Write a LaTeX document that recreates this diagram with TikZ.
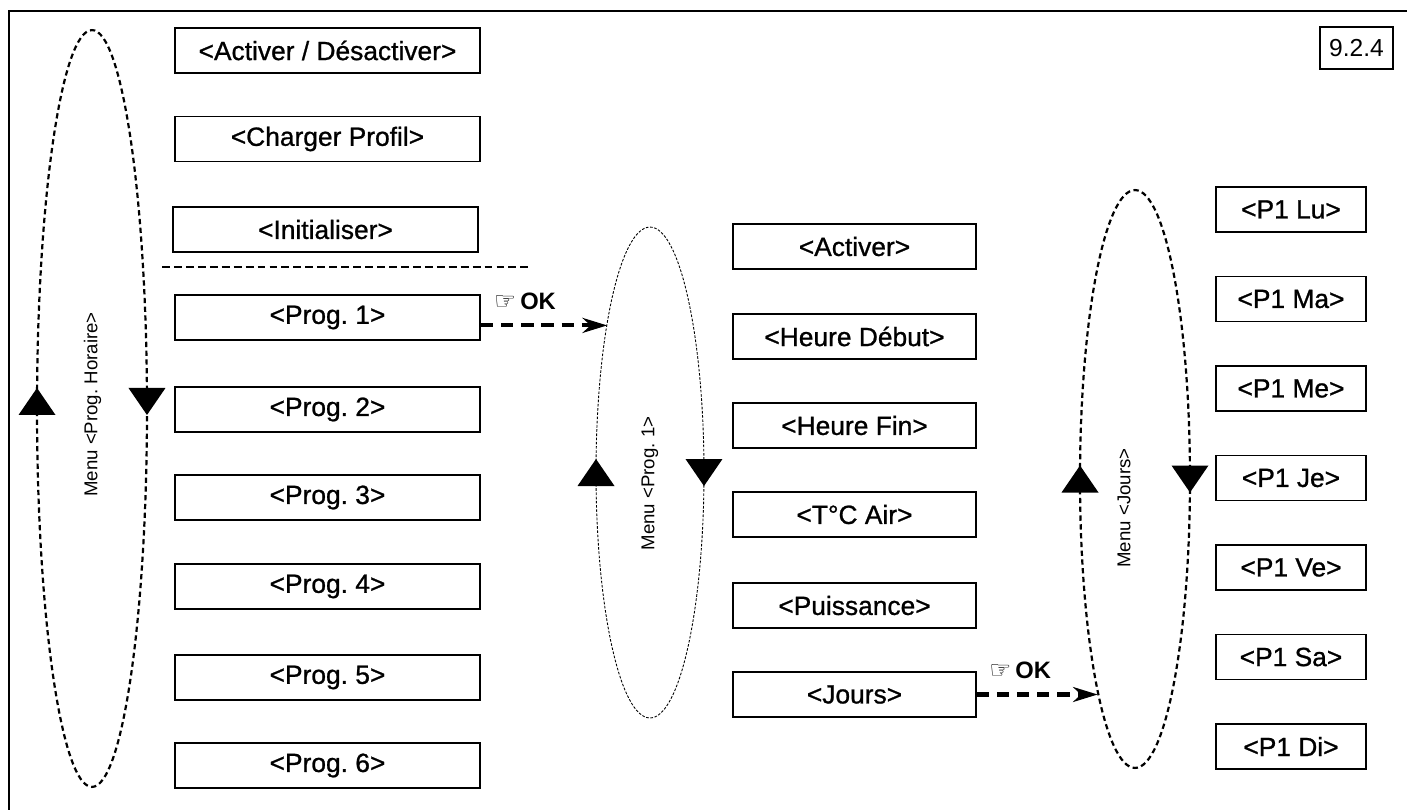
\documentclass[tikz,border=0pt]{standalone}
\usepackage{fontspec}
\setmainfont{Liberation Sans}
\newfontfamily\boxfont[FakeBold=0.9]{Liberation Sans}
\newfontfamily\symbfont{DejaVu Sans}
\usepackage{tikz}
\usetikzlibrary{shapes.geometric,arrows.meta,positioning}
\frenchspacing
\newcommand{\uptri}[1]{\fill #1 ++(-18.5,13.5) -- ++(37,0) -- ++(-18.5,-27) -- cycle;}
\newcommand{\downtri}[1]{\fill #1 ++(-18.5,-13.5) -- ++(37,0) -- ++(-18.5,27) -- cycle;}

\begin{document}
\begin{tikzpicture}[x=0.02cm, y=-0.02cm,
    menubox/.style={draw, line width=0.95pt, minimum height=0.9cm, inner sep=0pt, font=\boxfont\fontsize{15}{18}\selectfont},
    leftbox/.style={menubox, minimum width=6.1cm},
    midbox/.style={menubox, line width=0.65pt, minimum width=4.86cm},
    daybox/.style={menubox, minimum width=3cm},
    loopline/.style={draw, ellipse, inner sep=0pt, outer sep=0pt, line width=1.25pt, dash pattern=on 3pt off 2pt},
    menulabel/.style={rotate=90, inner sep=0pt, font=\fontsize{10.6}{12}\selectfont},
    okarrow/.style={line width=2.3pt, dash pattern=on 7pt off 4.5pt, -{Stealth[length=14pt,width=8.5pt]}},
    oklabel/.style={font=\bfseries\fontsize{13.5}{15}\selectfont, inner sep=1pt}]
    \useasboundingbox (0,0) rectangle (1407,809);
    \draw[line width=1.1pt] (9,840) -- (9,11) -- (1440,11);
    \node[draw, line width=1.2pt, minimum width=1.46cm, minimum height=0.84cm, inner sep=0pt, font=\fontsize{14}{16}\selectfont] (ref) at (1356.5,48) {9.2.4};

    \node[loopline, minimum width=2.2cm, minimum height=15.14cm] (loopA) at (92,408.5) {};
    \node[loopline, line width=0.5pt, dash pattern=on 1.5pt off 0.9pt, minimum width=2.16cm, minimum height=9.82cm] (loopB) at (650,472.5) {};
    \node[loopline, minimum width=2.2cm, minimum height=11.56cm] (loopC) at (1135,479) {};
    \node[menulabel] (lblA) at (92.5,404.5) {Menu <Prog. Horaire>};
    \node[menulabel] (lblB) at (650,483.5) {Menu <Prog. 1>};
    \node[menulabel] (lblC) at (1124,508) {Menu <Jours>};
    \uptri{([yshift=4pt]loopA.west)}
    \downtri{([yshift=4pt]loopA.east)}
    \uptri{(loopB.west)}
    \downtri{(loopB.east)}
    \uptri{(loopC.west)}
    \downtri{(loopC.east)}

    \node[leftbox] (onoff) at (327.5,50.5) {<Activer / Désactiver>};
    \node[leftbox] (profil) at (327.5,139) {<Charger Profil>};
    \node[leftbox] (init) at (325.5,229.5) {<Initialiser>};
    \coordinate (sepL) at (162,267);
    \coordinate (sepR) at (530,267);
    \draw[line width=1.1pt, dash pattern=on 4.5pt off 2.3pt] (sepL) -- (sepR);
    \node[leftbox] (prog1) at (327.5,317.5) {<Prog. 1>};
    \foreach \i/\y in {2/409.5,3/497.5,4/586.5,5/677.5,6/765.5}
        \node[leftbox] (prog\i) at (327.5,\y) {<Prog. \i>};

    \node[midbox] (act) at (854.5,246.5) {<Activer>};
    \node[midbox] (debut) at (854.5,336.5) {<Heure Début>};
    \node[midbox] (fin) at (854.5,425.5) {<Heure Fin>};
    \node[midbox] (temp) at (854.5,514.5) {<T°C Air>};
    \node[midbox] (puis) at (854.5,605.5) {<Puissance>};
    \node[midbox] (jours) at (854.5,694.5) {<Jours>};

    \foreach \d/\y in {Lu/209.5,Ma/299,Me/388.5,Je/478,Ve/567.5,Sa/657,Di/746.5}
        \node[daybox] (day\d) at (1291,\y) {<P1 \d>};

    \coordinate (p1out) at ([yshift=-4.5pt]prog1.east);
    \draw[okarrow] (p1out) -- node[oklabel, above=7pt, pos=0.35] (ok1) {{\symbfont\fontsize{14}{14}\selectfont ☞}\,OK} (p1out -| loopB.106);
    \draw[okarrow] (jours.east) -- node[oklabel, above=7pt, pos=0.36] (ok2) {{\symbfont\fontsize{14}{14}\selectfont ☞}\,OK} (jours.east -| loopC.260);
\end{tikzpicture}
\end{document}
